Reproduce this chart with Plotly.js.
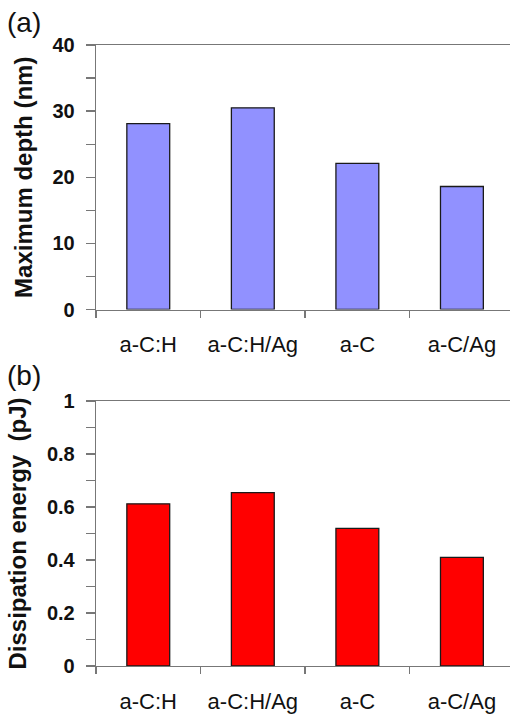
<!DOCTYPE html>
<html>
<head>
<meta charset="utf-8">
<script src="https://cdn.plot.ly/plotly-3.0.1.min.js"></script>
<style>html,body{margin:0;padding:0;background:#fff;}#chart{width:510px;height:714px;}</style>
</head>
<body>
<div id="chart"></div>
<script>
var categories = ["a-C:H", "a-C:H/Ag", "a-C", "a-C/Ag"];
var maxDepth = [28.1, 30.5, 22.1, 18.6];
var dissipationEnergy = [0.612, 0.654, 0.519, 0.410];
var depthTicks = [0, 10, 20, 30, 40];
var energyTicks = [0, 0.2, 0.4, 0.6, 0.8, 1];
var energyTickText = ["0", "0.2", "0.4", "0.6", "0.8", "1"];

var FONT = "Liberation Sans, Arial, Helvetica, sans-serif";
var AX = "#777777";

var traces = [
  {type: "bar", x: categories, y: maxDepth, xaxis: "x", yaxis: "y",
   marker: {color: "#9191ff", line: {color: "#1a1a1a", width: 1.3}}, hoverinfo: "x+y"},
  {type: "bar", x: categories, y: dissipationEnergy, xaxis: "x2", yaxis: "y2",
   marker: {color: "#ff0000", line: {color: "#1a1a1a", width: 1.3}}, hoverinfo: "x+y"}
];

function xAxis(anchor) {
  return {
    anchor: anchor, domain: [96/510, 1], type: "category",
    range: [-0.5, 3.46], tickson: "boundaries",
    showline: true, linecolor: AX, linewidth: 1.3, mirror: true,
    ticks: "outside", ticklen: 7, tickcolor: AX, tickwidth: 1.3,
    ticklabelstandoff: 15,
    tickfont: {family: FONT, size: 22, color: "#111"},
    showgrid: false, zeroline: false, fixedrange: true
  };
}
function yAxis(anchor, domain, range, tickvals, ticktext, minorDtick, title) {
  return {
    anchor: anchor, domain: domain, range: range,
    tickmode: "array", tickvals: tickvals, ticktext: ticktext,
    showline: true, linecolor: AX, linewidth: 1.3,
    ticks: "outside", ticklen: 9, tickcolor: AX, tickwidth: 1.3,
    ticklabelstandoff: 7,
    minor: {dtick: minorDtick, ticks: "outside", ticklen: 9, tickcolor: AX, tickwidth: 1.3, showgrid: false},
    tickfont: {family: FONT, size: 20, color: "#111", weight: "bold"},
    title: {text: title, font: {family: FONT, size: 24, color: "#111", weight: "bold"}, standoff: 13},
    showgrid: false, zeroline: false, fixedrange: true
  };
}

var layout = {
  width: 510, height: 714,
  margin: {l: 0, r: 0, t: 0, b: 0},
  paper_bgcolor: "#fff", plot_bgcolor: "#fff",
  showlegend: false, bargap: 0.59,
  xaxis: xAxis("y"),
  yaxis: yAxis("x", [1 - 309.5/714, 1 - 45/714], [0, 40], depthTicks, depthTicks.map(String), 5, "Maximum depth (nm)"),
  xaxis2: xAxis("y2"),
  yaxis2: yAxis("x2", [1 - 666/714, 1 - 401/714], [0, 1], energyTicks, energyTickText, 0.1, "Dissipation energy  (pJ)"),
  annotations: [
    {text: "(a)", xref: "paper", yref: "paper", x: 5/510, y: 1 - 23/714, xanchor: "left", yanchor: "middle",
     showarrow: false, font: {family: FONT, size: 28, color: "#111"}},
    {text: "(b)", xref: "paper", yref: "paper", x: 5/510, y: 1 - 375/714, xanchor: "left", yanchor: "middle",
     showarrow: false, font: {family: FONT, size: 28, color: "#111"}}
  ]
};

Plotly.newPlot("chart", traces, layout, {displayModeBar: false, staticPlot: true});
</script>
</body>
</html>
